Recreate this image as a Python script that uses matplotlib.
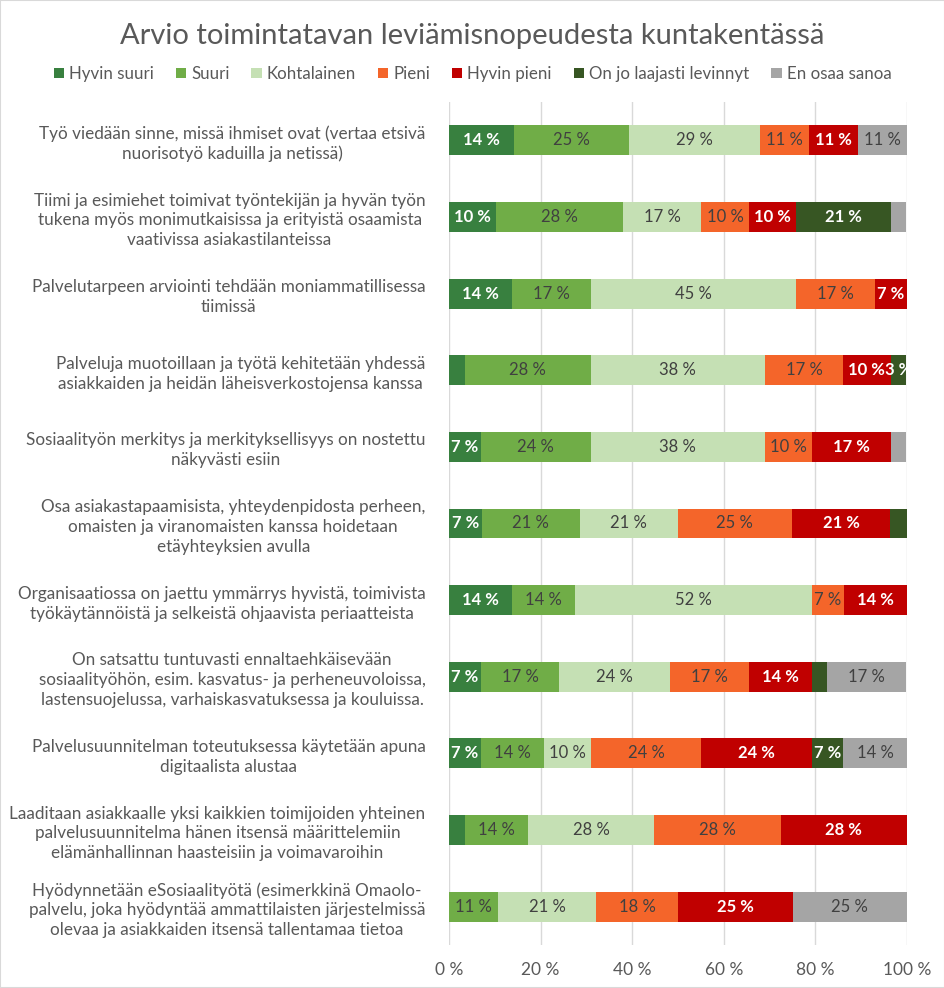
import matplotlib.pyplot as plt
import numpy as np
from matplotlib.patches import Rectangle

plt.rcParams['font.family'] = ['Lato', 'DejaVu Sans']

# Kategoriat (ylhäältä alas)
categories = [
    "Työ viedään sinne, missä ihmiset ovat (vertaa etsivä\nnuorisotyö kaduilla ja netissä)",
    "Tiimi ja esimiehet toimivat työntekijän ja hyvän työn\ntukena myös monimutkaisissa ja erityistä osaamista\nvaativissa asiakastilanteissa",
    "Palvelutarpeen arviointi tehdään moniammatillisessa\ntiimissä",
    "Palveluja muotoillaan ja työtä kehitetään yhdessä\nasiakkaiden ja heidän läheisverkostojensa kanssa",
    "Sosiaalityön merkitys ja merkityksellisyys on nostettu\nnäkyvästi esiin",
    "Osa asiakastapaamisista, yhteydenpidosta perheen,\nomaisten ja viranomaisten kanssa hoidetaan\netäyhteyksien avulla",
    "Organisaatiossa on jaettu ymmärrys hyvistä, toimivista\ntyökäytännöistä ja selkeistä ohjaavista periaatteista",
    "On satsattu tuntuvasti ennaltaehkäisevään\nsosiaalityöhön, esim. kasvatus- ja perheneuvoloissa,\nlastensuojelussa, varhaiskasvatuksessa ja kouluissa.",
    "Palvelusuunnitelman toteutuksessa käytetään apuna\ndigitaalista alustaa",
    "Laaditaan asiakkaalle yksi kaikkien toimijoiden yhteinen\npalvelusuunnitelma hänen itsensä määrittelemiin\nelämänhallinnan haasteisiin ja voimavaroihin",
    "Hyödynnetään eSosiaalityötä (esimerkkinä Omaolo-\npalvelu, joka hyödyntää ammattilaisten järjestelmissä\nolevaa ja asiakkaiden itsensä tallentamaa tietoa",
]

series = ["Hyvin suuri", "Suuri", "Kohtalainen", "Pieni", "Hyvin pieni",
          "On jo laajasti levinnyt", "En osaa sanoa"]

# Osuudet prosentteina, sama järjestys kuin categories
hyvin_suuri = [14.3, 10.3, 13.8, 3.4, 6.9, 7.1, 13.8, 6.9, 6.9, 3.4, 0]
suuri =       [25.0, 27.6, 17.2, 27.6, 24.1, 21.4, 13.8, 17.2, 13.8, 13.8, 10.7]
kohtalainen = [28.6, 17.2, 44.8, 37.9, 37.9, 21.4, 51.7, 24.1, 10.3, 27.6, 21.4]
pieni =       [10.7, 10.3, 17.2, 17.2, 10.3, 25.0, 6.9, 17.2, 24.1, 27.6, 17.9]
hyvin_pieni = [10.7, 10.3, 6.9, 10.3, 17.2, 21.4, 13.8, 13.8, 24.1, 27.6, 25.0]
levinnyt =    [0, 20.7, 0, 3.4, 0, 3.6, 0, 3.4, 6.9, 0, 0]
en_osaa =     [10.7, 3.4, 0, 0, 3.4, 0, 0, 17.2, 13.8, 0, 25.0]

values = [hyvin_suuri, suuri, kohtalainen, pieni, hyvin_pieni, levinnyt, en_osaa]
colors = ['#38803f', '#70ad47', '#c5e0b4', '#f4652a', '#c00000', '#375623', '#a5a5a5']
label_colors = ['white', '#404040', '#404040', '#404040', 'white', 'white', '#404040']
label_bold = [True, False, False, False, True, True, False]

text_col = '#595959'

fig = plt.figure(figsize=(9.45, 9.88), dpi=100)
ax = fig.add_axes([449 / 945, 1 - 945 / 988, 458 / 945, 843 / 988])

y = np.arange(len(categories))
left = np.zeros(len(categories))
for s, vals in enumerate(values):
    vals = np.array(vals)
    ax.barh(y, vals, left=left, height=0.39, color=colors[s], label=series[s], zorder=3)
    for i, v in enumerate(vals):
        show = v >= 5 or (s == 5 and i == 3)
        if show:
            ax.text(left[i] + v / 2, y[i], f"{v:.0f} %", ha='center', va='center',
                    color=label_colors[s], fontsize=12,
                    fontweight='bold' if label_bold[s] else 'normal', zorder=4)
    left += vals

ax.set_ylim(len(categories) - 0.5, -0.5)
ax.set_xlim(0, 100)
ax.set_xticks(np.arange(0, 101, 20))
ax.set_xticklabels([f"{t} %" for t in range(0, 101, 20)])
ax.set_yticks(y)
ax.set_yticklabels(categories, multialignment='center', fontsize=12.3, color=text_col,
                   linespacing=1.3)
ax.tick_params(axis='y', length=0, pad=17)
ax.tick_params(axis='x', length=0, pad=12, labelsize=12.5, labelcolor=text_col)
ax.grid(axis='x', color='#d9d9d9', linewidth=1, zorder=0)
for sp in ax.spines.values():
    sp.set_visible(False)

fig.suptitle("Arvio toimintatavan leviämisnopeudesta kuntakentässä",
             y=1 - 36 / 988, va='center', fontsize=21, color=text_col)

handles, labels = ax.get_legend_handles_labels()
leg = fig.legend(handles, labels, loc='center', bbox_to_anchor=(0.5, 1 - 74 / 988), ncol=7,
                 frameon=False, fontsize=12.2, handlelength=0.6, handleheight=0.6,
                 handletextpad=0.3, columnspacing=1.3)
for t in leg.get_texts():
    t.set_color(text_col)

fig.patches.append(Rectangle((0, 0), 1, 1, transform=fig.transFigure, fill=False,
                             edgecolor='#d9d9d9', linewidth=1.5))

fig.savefig('out.png', dpi=100)
